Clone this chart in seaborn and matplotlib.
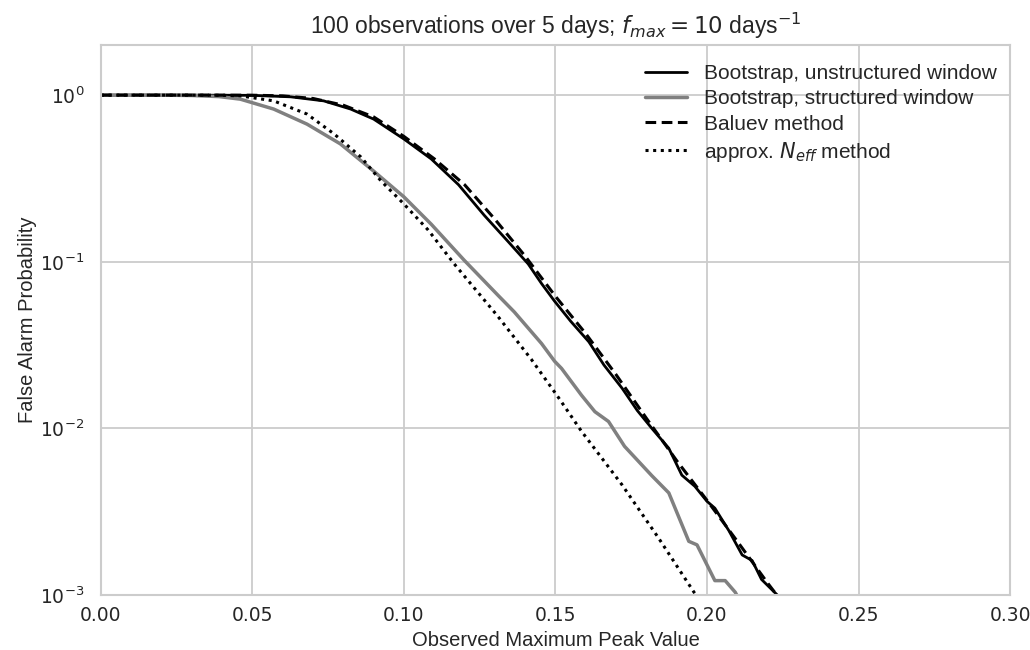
import numpy as np
import pandas as pd
import seaborn as sns
import matplotlib
matplotlib.use("Agg")
import matplotlib.pyplot as plt

# ---- data ----
boot_unstruct_x = [0.0, 0.02, 0.04, 0.05, 0.0626, 0.0735, 0.0824, 0.090, 0.100, 0.109, 0.118,
                   0.1265, 0.1344, 0.141, 0.1454, 0.1497, 0.155, 0.161, 0.166, 0.172, 0.177,
                   0.1818, 0.1874, 0.1917, 0.196, 0.200, 0.2026, 0.2073, 0.2116, 0.2149, 0.218,
                   0.2232, 0.225]
boot_unstruct_y = [1.0, 1.0, 0.999, 0.997, 0.977, 0.924, 0.825, 0.718, 0.545, 0.414, 0.290,
                   0.190, 0.132, 0.097, 0.074, 0.058, 0.044, 0.0331, 0.024, 0.0174, 0.0128,
                   0.0100, 0.0076, 0.00524, 0.00449, 0.00365, 0.00332, 0.00242, 0.00174, 0.00161,
                   0.00124, 0.00100, 0.00088]

boot_struct_x = [0.0, 0.02, 0.03, 0.039, 0.046, 0.057, 0.068, 0.079, 0.090, 0.100, 0.109,
                 0.1199, 0.131, 0.1364, 0.1454, 0.1497, 0.152, 0.1586, 0.163, 0.1675, 0.1728,
                 0.1818, 0.1874, 0.194, 0.1967, 0.2026, 0.206, 0.2093, 0.2105]
boot_struct_y = [1.0, 1.0, 0.995, 0.98, 0.946, 0.825, 0.67, 0.51, 0.35, 0.245, 0.168,
                 0.102, 0.063, 0.050, 0.0323, 0.0253, 0.0229, 0.0158, 0.0126, 0.0110, 0.0078,
                 0.0052, 0.0041, 0.0021, 0.0020, 0.00122, 0.00122, 0.00104, 0.00095]

baluev_x = [0.0, 0.03, 0.05, 0.06, 0.07, 0.08, 0.09, 0.10, 0.11, 0.12, 0.13, 0.14, 0.15,
            0.16, 0.17, 0.18, 0.19, 0.20, 0.21, 0.22, 0.226]
baluev_y = [1.0, 1.0, 0.999, 0.99, 0.955, 0.87, 0.74, 0.565, 0.415, 0.29, 0.180, 0.108, 0.062,
            0.037, 0.021, 0.0115, 0.0064, 0.0037, 0.0021, 0.00118, 0.00085]

neff_x = [0.0, 0.03, 0.04, 0.046, 0.057, 0.068, 0.077, 0.0858, 0.0924, 0.100, 0.108, 0.1166,
          0.1255, 0.131, 0.142, 0.151, 0.1586, 0.1719, 0.184, 0.1957, 0.198]
neff_y = [1.0, 1.0, 0.998, 0.99, 0.924, 0.77, 0.584, 0.425, 0.306, 0.222, 0.155, 0.097,
          0.062, 0.047, 0.026, 0.0153, 0.0096, 0.0046, 0.0022, 0.00104, 0.00092]

labels = ["Bootstrap, unstructured window", "Bootstrap, structured window",
          "Baluev method", r"approx. $N_{eff}$ method"]

sns.set_theme(style="whitegrid")
plt.rcParams["font.family"] = ["Liberation Sans", "DejaVu Sans"]
plt.rcParams["mathtext.fontset"] = "dejavusans"

fig = plt.figure(figsize=(10.3, 6.5), dpi=100)
ax = fig.add_axes([0.098, 0.0846, 0.8826, 0.8462])

sns.lineplot(x=boot_unstruct_x, y=boot_unstruct_y, ax=ax, color="black", lw=2,
             label=labels[0])
sns.lineplot(x=boot_struct_x, y=boot_struct_y, ax=ax, color="gray", lw=2.5,
             label=labels[1])
sns.lineplot(x=baluev_x, y=baluev_y, ax=ax, color="black", lw=2.2, ls=(0, (3.5, 1.8)),
             label=labels[2])
sns.lineplot(x=neff_x, y=neff_y, ax=ax, color="black", lw=2.2, ls=(0, (1, 1.5)),
             label=labels[3])

ax.set_yscale("log")
ax.set_xlim(0, 0.30)
ax.set_ylim(1e-3, 2)
ax.minorticks_off()
ax.yaxis.set_major_locator(matplotlib.ticker.LogLocator(base=10, numticks=10))
ax.set_xticks([0.0, 0.05, 0.10, 0.15, 0.20, 0.25, 0.30])
ax.set_xticklabels(["0.00", "0.05", "0.10", "0.15", "0.20", "0.25", "0.30"])
for t in ax.get_xticklabels() + ax.get_yticklabels():
    t.set_fontfamily("DejaVu Sans")
    t.set_fontsize(13.5)
    t.set_color("#262626")
ax.tick_params(axis="x", pad=2)
ax.tick_params(axis="y", pad=6)

ax.set_xlabel("Observed Maximum Peak Value", fontsize=14.5, color="#262626", labelpad=4)
ax.set_ylabel("False Alarm Probability", fontsize=14.5, color="#262626", labelpad=2)
ax.set_title(r"100 observations over 5 days; $f_{max} = 10$ days$^{-1}$", fontsize=16.5,
             color="#262626", pad=8)

for s in ax.spines.values():
    s.set_color("#cccccc")
    s.set_linewidth(1.5)
ax.grid(color="#cccccc", lw=1.3)

leg = ax.legend(loc="upper right", frameon=False, fontsize=15, handlelength=2.0,
                borderaxespad=0.25, labelspacing=0.3, handletextpad=0.8,
                bbox_to_anchor=(1.0, 0.99))
for t in leg.get_texts():
    t.set_color("#262626")

fig.savefig("out.png", dpi=100)
